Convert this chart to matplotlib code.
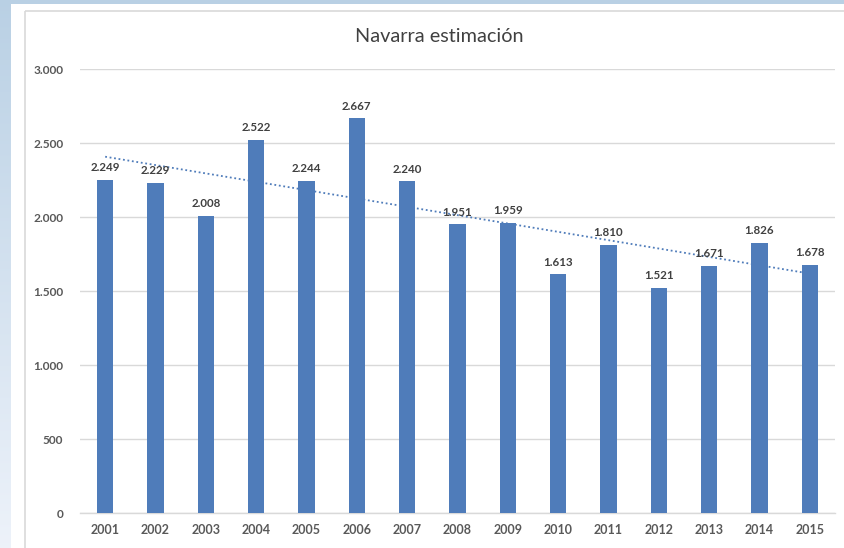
import numpy as np
import matplotlib
matplotlib.use("Agg")
import matplotlib.pyplot as plt
from matplotlib.patches import Rectangle

years = ["2001", "2002", "2003", "2004", "2005", "2006", "2007", "2008",
         "2009", "2010", "2011", "2012", "2013", "2014", "2015"]
values = [2249, 2229, 2008, 2522, 2244, 2667, 2240, 1951,
          1959, 1613, 1810, 1521, 1671, 1826, 1678]
yticks = [0, 500, 1000, 1500, 2000, 2500, 3000]
title = "Navarra estimación"

def fmt(v):
    return f"{v:,}".replace(",", ".")

plt.rcParams['font.family'] = ['Lato', 'DejaVu Sans']

W, H = 845, 548
fig = plt.figure(figsize=(W / 100, H / 100), dpi=100)

# background gradient
bg = fig.add_axes([0, 0, 1, 1], zorder=-10)
bg.set_axis_off()
xx = np.linspace(0, 1, W)[None, :]
yy = np.linspace(0, 1, H)[:, None]
base = np.array([0.64, 0.76, 0.86])
white = np.array([0.93, 0.95, 0.98])
t = np.clip(0.3 + 0.7 * yy + 0 * xx, 0, 1)
grad = base[None, None, :] * (1 - t[..., None]) + white[None, None, :] * t[..., None]
bg.imshow(grad, extent=[0, W, H, 0], aspect='auto')
bg.set_xlim(0, W)
bg.set_ylim(H, 0)
bg.add_patch(Rectangle((11, 4), W - 11, H - 4, facecolor='white', edgecolor='none'))
bg.add_patch(Rectangle((25, 11), W + 10, H + 10, facecolor='none',
                       edgecolor='#d9d9d9', linewidth=1.2))

left, right = 80 / W, 835 / W
bottom, top = (H - 513) / H, (H - 69) / H
ax = fig.add_axes([left, bottom, right - left, top - bottom])
ax.set_facecolor('none')

x = np.arange(len(years))
ax.bar(x, values, width=0.33, color='#4f7cba', zorder=3)

coef = np.polyfit(x, values, 1)
ax.plot(x, np.polyval(coef, x), linestyle=(0, (1, 1.5)), color='#4f7cba',
        linewidth=1.3, zorder=4)

for xi, v in zip(x, values):
    ax.text(xi, v + 45, fmt(v), ha='center', va='bottom', fontsize=8.3,
            fontweight='bold', color='#404040', zorder=5)

ax.set_ylim(0, 3000)
ax.set_xlim(-0.5, len(years) - 0.5)
ax.set_yticks(yticks)
ax.set_yticklabels([fmt(v) for v in yticks])
ax.set_xticks(x)
ax.set_xticklabels(years)
ax.tick_params(axis='y', length=0, labelsize=8.6, labelcolor='#595959', pad=12)
ax.tick_params(axis='x', length=0, labelsize=9, labelcolor='#595959', pad=8)
for lab in ax.get_xticklabels() + ax.get_yticklabels():
    lab.set_fontweight('bold')
ax.grid(axis='y', color='#d9d9d9', linewidth=1, zorder=0)
for s in ['top', 'right', 'left']:
    ax.spines[s].set_visible(False)
ax.spines['bottom'].set_color('#d9d9d9')
ax.spines['bottom'].set_linewidth(1)

fig.text(439 / W, 1 - 37 / H, title, ha='center', va='center',
         fontsize=14.3, color='#404040')

fig.savefig("out.png", dpi=100)
